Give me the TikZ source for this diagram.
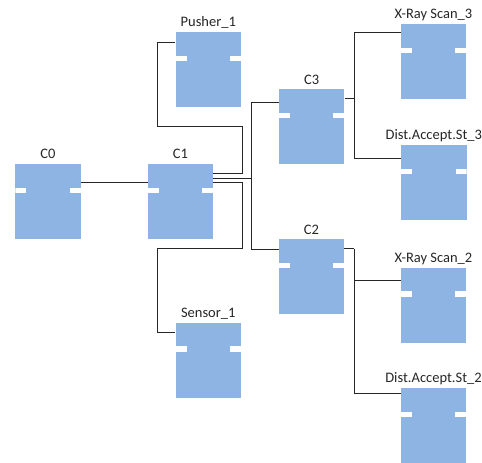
\documentclass[tikz,border=0pt]{standalone}
\usepackage{fontspec}
\setmainfont{Carlito}
\definecolor{blockblue}{RGB}{141,180,226}
\begin{document}
\begin{tikzpicture}[x=1pt, y=1pt, every node/.style={font=\fontsize{14.5}{16}\selectfont}]
        \tikzstyle{block} = [rectangle, fill=blockblue, inner sep=0pt, minimum width=65.5pt, minimum height=75pt,
            path picture={
                \fill[white] ([yshift=-23.5pt]path picture bounding box.north west) rectangle ++(11pt,-5.5pt);
                \fill[white] ([yshift=-23.5pt]path picture bounding box.north east) rectangle ++(-11pt,-5.5pt);
            }]
        \tikzstyle{tag} = [anchor=base, yshift=5pt, inner sep=0pt, text=black!85]
        \tikzstyle{wire} = [line width=1pt, draw=black!85]
        \useasboundingbox (0,0) rectangle (482,-463);

        \node [block, label={[tag]above:C0}]               (c0)      at (48,-201.5)    {};
        \node [block, label={[tag]above:C1}]               (c1)      at (180.5,-201.5) {};
        \node [block, label={[tag]above:Pusher\_1}]        (pusher)  at (208.3,-69.7)  {};
        \node [block, label={[tag]above:Sensor\_1}]        (sensor)  at (208.3,-360.2) {};
        \node [block, label={[tag]above:C3}]               (c3)      at (311.7,-126.7) {};
        \node [block, label={[tag]above:C2}]               (c2)      at (311.5,-276.8) {};
        \node [block, label={[tag]above:X-Ray Scan\_3}]    (xscan3)  at (433.5,-61.5)  {};
        \node [block, label={[tag]above:Dist.Accept.St\_3}] (accept3) at (433.8,-182.5) {};
        \node [block, label={[tag]above:X-Ray Scan\_2}]    (xscan2)  at (433.5,-305.2) {};
        \node [block, label={[tag]above:Dist.Accept.St\_2}] (accept2) at (433.5,-425.5) {};

        \draw [wire] ([yshift=-18.7pt]c0.north east) -- ([yshift=-18.7pt]c1.north west);
        \draw [wire] ([yshift=-10pt]c1.north east) -- ++(28.7,0) -- ++(0,47) -- ++(-85,0) |- ([yshift=-10pt]pusher.north west);
        \draw [wire] ([yshift=-18.7pt]c1.north east) -- ++(28.7,0) -- ++(0,-65.6) -- ++(-85,0) |- ([yshift=-10pt]sensor.north west);
        \draw [wire] ([yshift=-14.3pt]c1.north east) -- ++(38,0) coordinate (bus);
        \draw [wire] (bus) |- ([yshift=-13.4pt]c3.north west);
        \draw [wire] (bus) |- ([yshift=-10pt]c2.north west);
        \draw [wire] ([yshift=-9.7pt]c3.north east) -- ++(10,0) coordinate (split3);
        \draw [wire] (split3) |- ([yshift=-8.7pt]xscan3.north west);
        \draw [wire] (split3) |- ([yshift=-13.3pt]accept3.north west);
        \draw [wire] ([yshift=-9.7pt]c2.north east) -- ++(10,0) coordinate (split2);
        \draw [wire] (split2) |- ([yshift=-13.3pt]xscan2.north west);
        \draw [wire] (split2) |- ([yshift=-5.3pt]accept2.north west);
    \end{tikzpicture}
\end{document}
